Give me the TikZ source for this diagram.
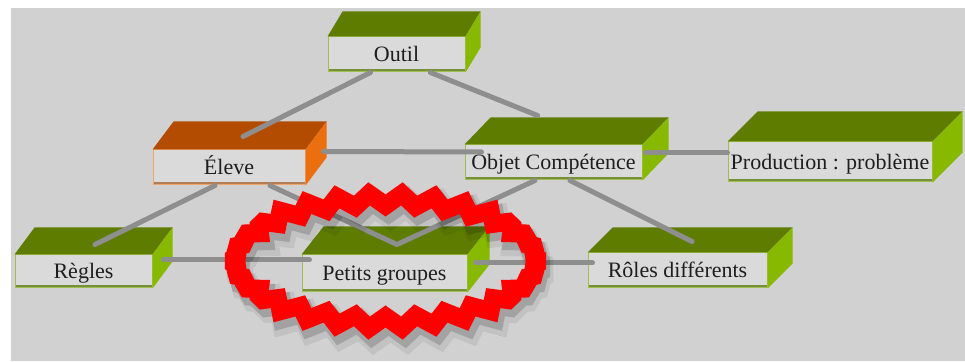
\documentclass[tikz,border=0pt]{standalone}
\usepackage{fontspec}
\setmainfont{Liberation Serif}
\usepackage{tikz}
\usetikzlibrary{calc}
\definecolor{fond}{RGB}{209,209,209}
\definecolor{face}{RGB}{218,218,218}
\definecolor{bord}{RGB}{160,190,80}
\definecolor{vertfonce}{RGB}{94,125,0}
\definecolor{vertclair}{RGB}{135,185,0}
\definecolor{brun}{RGB}{180,76,0}
\definecolor{orange}{RGB}{235,110,15}
\definecolor{bordeleve}{RGB}{240,165,110}
\definecolor{trait}{RGB}{142,142,142}
\definecolor{texte}{RGB}{30,30,30}
\definecolor{rouge}{RGB}{255,0,0}

\begin{document}
\begin{tikzpicture}
[x=1pt,y=1pt,
bloc/.style={draw=#1,fill=face,line width=1pt,inner sep=0pt,minimum height=35pt,text height=17pt,text depth=2.5pt,text=texte,font=\fontsize{22}{24}\selectfont,
 path picture={\fill[#1!75!black] (path picture bounding box.south west) rectangle ([yshift=3pt]path picture bounding box.south east);}},
bloc/.default=bord,
dessus/.style={fill=#1}, dessus/.default=vertfonce,
cote/.style={fill=#1}, cote/.default=vertclair,
lien/.style={draw=trait,line width=5pt,line cap=round,line join=round},
couronne/.style={line join=miter,miter limit=1.6}]
\useasboundingbox (0,0) rectangle (965,361);
\fill[white] (0,0) rectangle (965,361); \fill[fond] (11,0) rectangle (965,353);
\node[bloc,minimum width=137pt] (outil) at (396.5,306.5) {Outil};
\node[bloc=bordeleve,minimum width=152pt] (eleve) at (229,193.5) {Éleve};
\node[bloc,minimum width=177pt] (objet) at (553.5,198.5) {Objet Compétence};
\node[bloc,minimum width=204pt,minimum height=40pt] (production) at (830,199) {Production : problème};
\node[bloc,minimum width=137pt,minimum height=33pt] (regles) at (83.5,89.5) {Règles};
\node[bloc,minimum width=165pt,minimum height=37pt] (petits) at (384.5,87.5) {Petits groupes};
\node[bloc,minimum width=179pt] (roles) at (677.5,90.5) {Rôles différents};
\fill[dessus] (outil.north west) -- ++(15,25) -- ($(outil.north east)+(15,25)$) -- (outil.north east) -- cycle; \fill[cote] (outil.north east) -- ++(15,25) -- ($(outil.south east)+(15,25)$) -- (outil.south east) -- cycle;
\fill[dessus=brun] (eleve.north west) -- ++(21,28) -- ($(eleve.north east)+(21,28)$) -- (eleve.north east) -- cycle; \fill[cote=orange] (eleve.north east) -- ++(21,28) -- ($(eleve.south east)+(21,28)$) -- (eleve.south east) -- cycle;
\fill[dessus] (objet.north west) -- ++(26,27) -- ($(objet.north east)+(26,27)$) -- (objet.north east) -- cycle; \fill[cote] (objet.north east) -- ++(26,27) -- ($(objet.south east)+(26,27)$) -- (objet.south east) -- cycle;
\fill[dessus] (production.north west) -- ++(30,30) -- ($(production.north east)+(30,30)$) -- (production.north east) -- cycle; \fill[cote] (production.north east) -- ++(30,30) -- ($(production.south east)+(30,30)$) -- (production.south east) -- cycle;
\fill[dessus] (regles.north west) -- ++(20,27) -- ($(regles.north east)+(20,27)$) -- (regles.north east) -- cycle; \fill[cote] (regles.north east) -- ++(20,27) -- ($(regles.south east)+(20,27)$) -- (regles.south east) -- cycle;
\fill[dessus] (petits.north west) -- ++(22,28) -- ($(petits.north east)+(22,28)$) -- (petits.north east) -- cycle; \fill[cote] (petits.north east) -- ++(22,28) -- ($(petits.south east)+(22,28)$) -- (petits.south east) -- cycle;
\fill[dessus] (roles.north west) -- ++(25,25) -- ($(roles.north east)+(25,25)$) -- (roles.north east) -- cycle; \fill[cote] (roles.north east) -- ++(25,25) -- ($(roles.south east)+(25,25)$) -- (roles.south east) -- cycle;
\draw[lien] ($(outil.south)+(-26,0)$) -- ($(eleve.north)+(14,13)$); \draw[lien] ($(outil.south)+(34,0)$) -- ($(objet.north)+(-16,29)$);
\draw[lien] ($(eleve.north east)+(18,-2)$) -- ($(objet.west)+(17,10.5)$); \draw[lien] ($(objet.east)+(3,9.5)$) -- ($(production.west)+(0,9)$);
\draw[lien] ($(eleve.south)+(-14,0)$) -- ($(regles.north)+(11.5,10)$); \draw[lien] ($(eleve.south)+(41,0)$) -- ($(petits.north)+(12.5,10)$) -- ($(objet.south)+(-18.5,0)$);
\draw[lien] ($(objet.south)+(16.5,0)$) -- ($(roles.north)+(14.5,11)$);
\draw[lien] ($(regles.east)+(11,11.5)$) -- ($(petits.west)+(8,13.5)$); \draw[lien] ($(petits.east)+(8,10.5)$) -- ($(roles.west)+(5,7.5)$);
\coordinate (anneau) at ($(petits.center)+(1,12.5)$);
\foreach \dx/\dy/\lw/\c/\op in {5/-9/28/black/0.07, 3/-6/22/black/0.16, 0/0/18/rouge/1}
 \draw[couronne,draw=\c,opacity=\op,line width=\lw pt,shift={(anneau)},shift={(\dx,\dy)}] (157,0) \foreach \k in {1,...,59}{ -- ({(151+6*(1-2*mod(\k,2)))*cos(6*\k)},{(61.5+6*(1-2*mod(\k,2)))*sin(6*\k)}) } -- cycle;
\end{tikzpicture}
\end{document}
